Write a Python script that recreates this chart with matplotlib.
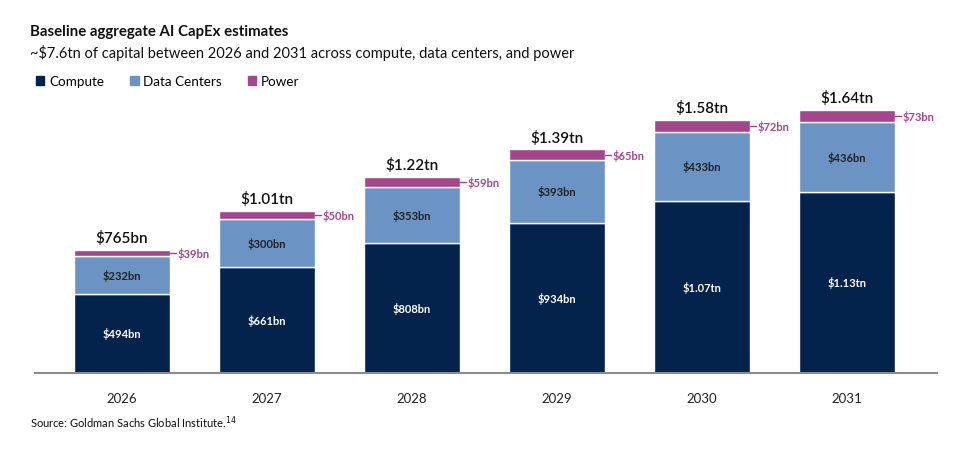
import matplotlib
matplotlib.use('Agg')
import matplotlib.pyplot as plt
from matplotlib.patches import Patch

plt.rcParams['font.family'] = ['Lato', 'DejaVu Sans']

# data (bn USD)
years = ['2026', '2027', '2028', '2029', '2030', '2031']
compute = [494, 661, 808, 934, 1070, 1130]
data_centers = [232, 300, 353, 393, 433, 436]
power = [39, 50, 59, 65, 72, 73]
compute_labels = ['$494bn', '$661bn', '$808bn', '$934bn', '$1.07tn', '$1.13tn']
dc_labels = ['$232bn', '$300bn', '$353bn', '$393bn', '$433bn', '$436bn']
power_labels = ['$39bn', '$50bn', '$59bn', '$65bn', '$72bn', '$73bn']
total_labels = ['$765bn', '$1.01tn', '$1.22tn', '$1.39tn', '$1.58tn', '$1.64tn']

c_compute = '#03224c'
c_dc = '#6b93c3'
c_power = '#a5468c'

fig = plt.figure(figsize=(9.8, 4.56), dpi=100)
# axis from x=35..937 px, baseline at y=374 px, 0.1606 px per bn
ymax = 1800
ax = fig.add_axes([35 / 980, (456 - 374) / 456, (937 - 35) / 980, ymax * 0.1606 / 456])

x = list(range(len(years)))
w = 0.66
bottoms_dc = compute
bottoms_pw = [c + d for c, d in zip(compute, data_centers)]

ax.bar(x, compute, w, color=c_compute, edgecolor='white', linewidth=1)
ax.bar(x, data_centers, w, bottom=bottoms_dc, color=c_dc, edgecolor='white', linewidth=1)
ax.bar(x, power, w, bottom=bottoms_pw, color=c_power, edgecolor='white', linewidth=1)

for i in x:
    ax.text(i, compute[i] / 2, compute_labels[i], ha='center', va='center',
            color='white', fontsize=8, fontweight='bold')
    ax.text(i, compute[i] + data_centers[i] / 2, dc_labels[i], ha='center', va='center',
            color='#222222', fontsize=8, fontweight='bold')
    top = bottoms_pw[i] + power[i]
    ym = bottoms_pw[i] + power[i] / 2
    ax.plot([i + w / 2, i + w / 2 + 0.045], [ym, ym], color=c_power, lw=1)
    ax.text(i + w / 2 + 0.055, ym, power_labels[i], ha='left', va='center',
            color=c_power, fontsize=8, fontweight='bold')
    ax.text(i, top + 30, total_labels[i], ha='center', va='bottom',
            color='#111111', fontsize=11, fontweight='semibold')

ax.set_xlim(-0.6, 5.62)
ax.set_ylim(0, ymax)
ax.set_yticks([])
ax.set_xticks(x)
ax.set_xticklabels(years, fontsize=9.5, color='#222222')
ax.tick_params(axis='x', length=0, pad=14)
for s in ['top', 'right', 'left']:
    ax.spines[s].set_visible(False)
ax.spines['bottom'].set_color('#8c8c8c')
ax.spines['bottom'].set_linewidth(1.5)

fig.text(30 / 980, 1 - 32 / 456, 'Baseline aggregate AI CapEx estimates', fontsize=10.8,
         fontweight='bold', va='center', color='#111111')
fig.text(30 / 980, 1 - 53 / 456,
         '~$7.6tn of capital between 2026 and 2031 across compute, data centers, and power',
         fontsize=10.5, va='center', color='#111111')

handles = [Patch(color=c_compute), Patch(color=c_dc), Patch(color=c_power)]
fig.legend(handles, ['Compute', 'Data Centers', 'Power'], loc='center left',
           bbox_to_anchor=(33 / 980, 1 - 82 / 456), ncol=3, frameon=False,
           fontsize=9.7, handlelength=0.65, handleheight=0.65, handletextpad=0.35,
           columnspacing=1.9, borderaxespad=0, borderpad=0.2)

fig.text(30 / 980, 1 - 423 / 456, 'Source: Goldman Sachs Global Institute.$^{14}$',
         fontsize=8, va='center', color='#111111')

fig.savefig('out.png', dpi=100)
